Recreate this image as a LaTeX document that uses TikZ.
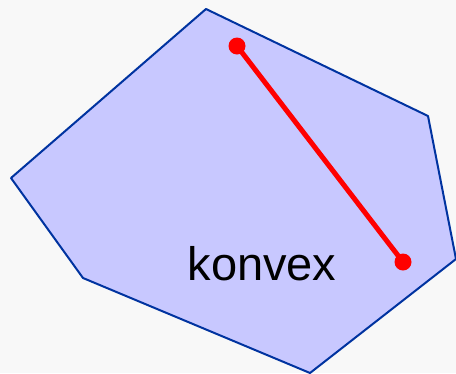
\documentclass[tikz,border=0pt]{standalone}
\usepackage{fontspec}
\setmainfont{Liberation Sans}
\definecolor{nen}{HTML}{F8F8F8}
\definecolor{vung}{HTML}{C8C8FF}
\definecolor{vien}{HTML}{0033A0}
\begin{document}
\begin{tikzpicture}[x=1pt, y=-1pt, line join=round, line cap=round]
		% Khung nền
		\fill[nen] (0,0) rectangle (456,373);
		\useasboundingbox (0,0) rectangle (456,373);
		% Định nghĩa các đỉnh của đa giác
		\path (206,9) coordinate (A)
		(428,116) coordinate (B)
		(456,259) coordinate (C)
		(310,373) coordinate (D)
		(83,278) coordinate (E)
		(11,178) coordinate (F);
		% ==================== ĐA GIÁC ====================
		\filldraw[fill=vung, draw=vien, line width=2pt] (A) -- (B) -- (C) -- (D) -- (E) -- (F) -- cycle;
		% ==================== NHÃN ====================
		\node[font=\fontsize{47}{56}\selectfont] (nhan) at (262,264) {konvex};
		% ==================== ĐOẠN THẲNG ====================
		\node[circle, fill=red, inner sep=0pt, minimum size=17pt] (P) at (237,46) {};
		\node[circle, fill=red, inner sep=0pt, minimum size=17pt] (Q) at (403,262) {};
		\draw[red, line width=5pt] (P.center) -- (Q.center);
\end{tikzpicture}
\end{document}
